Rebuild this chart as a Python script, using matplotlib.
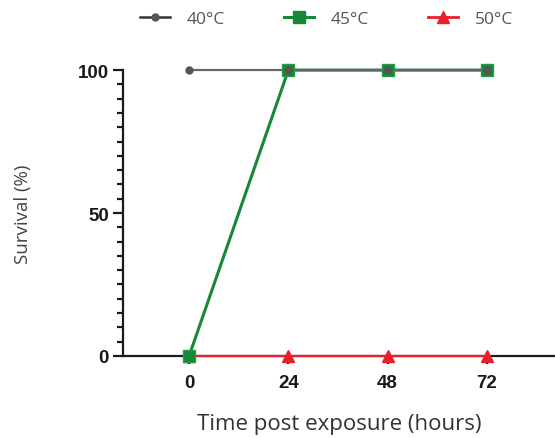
import matplotlib
matplotlib.use("Agg")
import matplotlib.pyplot as plt
from matplotlib.lines import Line2D
from matplotlib.ticker import MultipleLocator

# Data
hours = [0, 24, 48, 72]
surv_40 = [100, 100, 100, 100]
surv_45 = [0, 100, 100, 100]
surv_50 = [0, 0, 0, 0]
labels = ["40\u00b0C", "45\u00b0C", "50\u00b0C"]

c40 = "#555555"
c45 = "#16883a"
c50 = "#e8202a"

fig = plt.figure(figsize=(5.55, 4.39), dpi=100, facecolor="white")
ax = fig.add_axes([0.2216, 0.187, 0.7784, 0.651])

# lines first (GraphPad style), then markers on top
ax.plot(hours, surv_45, color=c45, linewidth=2.2, zorder=3, clip_on=False)
ax.plot(hours, surv_40, color="#666666", linewidth=1.6, zorder=3.1, clip_on=False)
ax.plot(hours, surv_50, color=c50, linewidth=1.6, zorder=3.2, clip_on=False)

ax.plot(hours, surv_50, linestyle="none", marker="^", markersize=9,
        color=c50, zorder=4, clip_on=False)
ax.plot(hours, surv_45, linestyle="none", marker="s", markersize=8,
        markerfacecolor=c45, markeredgecolor="#2a9a4a", zorder=5, clip_on=False)
ax.plot(hours, surv_40, linestyle="none", marker="o", markersize=5,
        color=c40, zorder=6, clip_on=False)

ax.set_xlim(-16, 88.5)
ax.set_ylim(0, 100)
ax.set_xticks(hours)
ax.set_yticks([0, 50, 100])
ax.yaxis.set_minor_locator(MultipleLocator(5))

for s in ["top", "right"]:
    ax.spines[s].set_visible(False)
for s in ["left", "bottom"]:
    ax.spines[s].set_linewidth(1.6)
    ax.spines[s].set_color("#1a1a1a")

ax.tick_params(axis="y", which="major", length=7, width=1.6, color="#1a1a1a", pad=3)
ax.tick_params(axis="y", which="minor", length=4, width=1.6, color="#1a1a1a")
ax.tick_params(axis="x", which="major", length=6, width=1.6, color="#1a1a1a", pad=7)

for lab in ax.get_xticklabels() + ax.get_yticklabels():
    lab.set_fontfamily("Liberation Sans")
    lab.set_fontweight("bold")
    lab.set_fontsize(13.5)
    lab.set_color("#1a1a1a")

ax.set_xlabel("Time post exposure (hours)", fontfamily="Open Sans", fontsize=16,
              color="#333333", labelpad=16)
ax.set_ylabel("Survival (%)", fontfamily="Open Sans", fontsize=13.5,
              color="#444444", labelpad=33)

handles = [
    Line2D([], [], color="#333333", linewidth=1.8, marker="o", markersize=5,
           markerfacecolor=c40, markeredgecolor=c40),
    Line2D([], [], color=c45, linewidth=2.2, marker="s", markersize=8,
           markerfacecolor=c45, markeredgecolor=c45),
    Line2D([], [], color=c50, linewidth=2.0, marker="^", markersize=9,
           markerfacecolor=c50, markeredgecolor=c50),
]
leg = fig.legend(handles=handles, labels=labels, loc="center left", ncol=3,
                 bbox_to_anchor=(140 / 555, 1 - 20 / 439), frameon=False,
                 borderpad=0, borderaxespad=0, handlelength=1.7,
                 columnspacing=3.4, handletextpad=1.0,
                 prop={"family": "Open Sans", "size": 12.5})
for t in leg.get_texts():
    t.set_color("#555555")

fig.savefig("out.png", dpi=100, facecolor="white")
